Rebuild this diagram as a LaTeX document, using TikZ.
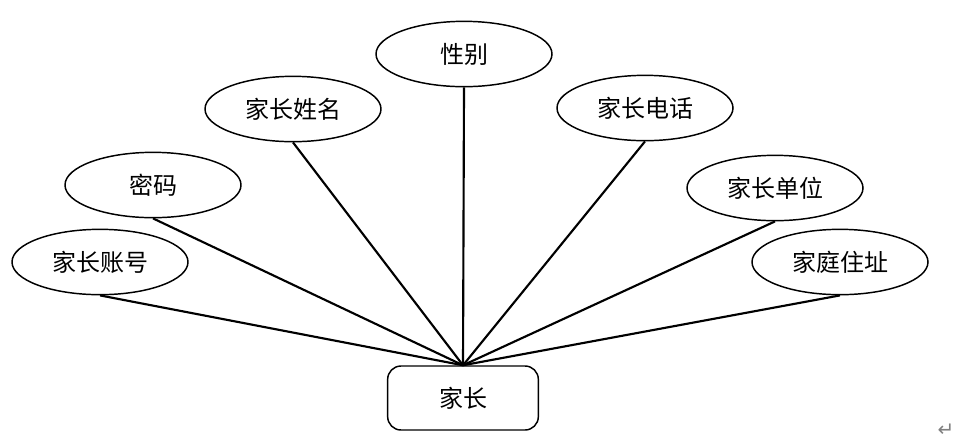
\documentclass[tikz,border=0pt]{standalone}
\usepackage{fontspec}
\setmainfont{Noto Sans CJK SC}
\newfontfamily\symfont{DejaVu Sans}
\usetikzlibrary{shapes.geometric}
\begin{document}
\begin{tikzpicture}[x=0.75pt,y=-0.75pt,
  attr/.style={ellipse,draw,line width=1.1pt,minimum width=132pt,minimum height=49pt,inner sep=0pt,font=\fontsize{18}{21}\selectfont},
  ent/.style={rectangle,rounded corners=10pt,draw,line width=1.1pt,minimum width=113pt,minimum height=48pt,inner sep=0pt,font=\fontsize{18}{21}\selectfont},
  link/.style={line width=1.6pt}]
\useasboundingbox (0,0) rectangle (980,440);
\node[ent] (e) at (463,398) {家长};
\node[attr] (a1) at (100,262) {家长账号};
\node[attr] (a2) at (153,185) {密码};
\node[attr] (a3) at (293,109) {家长姓名};
\node[attr] (a4) at (464,54) {性别};
\node[attr] (a5) at (645,108) {家长电话};
\node[attr] (a6) at (775,188) {家长单位};
\node[attr] (a7) at (840,262) {家庭住址};
\foreach \a in {a1,a2,a3,a4,a5,a6,a7}
  \draw[link] (\a.south) -- (e.north);
\node[text=gray,font=\symfont\fontsize{15}{16}\selectfont] (ret) at (946,430) {↵};
\end{tikzpicture}
\end{document}
